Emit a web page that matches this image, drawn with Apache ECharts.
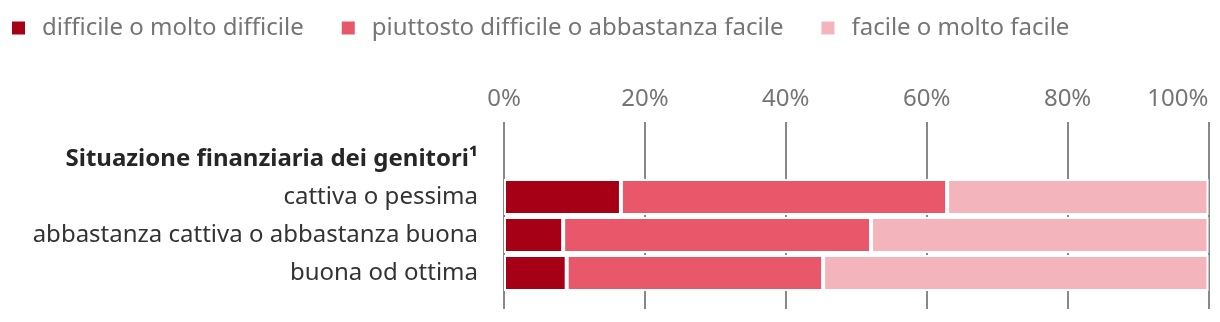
<!DOCTYPE html>
<html>
<head>
<meta charset="utf-8">
<script src="https://cdn.jsdelivr.net/npm/echarts@6/dist/echarts.min.js"></script>
<style>
  html, body { margin: 0; padding: 0; background: #fff; }
  #chart { width: 1220px; height: 322px; }
</style>
</head>
<body>
<div id="chart"></div>
<script>
// Row labels; the first row is a group heading without a bar
const categories = [
  'Situazione finanziaria dei genitori¹',
  'cattiva o pessima',
  'abbastanza cattiva o abbastanza buona',
  'buona od ottima'
];
const seriesNames = [
  'difficile o molto difficile',
  'piuttosto difficile o abbastanza facile',
  'facile o molto facile'
];
// Shares in percent per row (heading row empty)
const difficile = [null, 16.6, 8.4, 8.9];
const piuttosto = [null, 46.3, 43.7, 36.4];
const facile    = [null, 37.1, 47.9, 54.7];
const tickValues = [0, 20, 40, 60, 80, 100];

const colors = ['#a50016', '#e8586a', '#f4b4bc'];
const font = '"Noto Sans", sans-serif';

const chart = echarts.init(document.getElementById('chart'), null, { renderer: 'canvas' });

const valueSets = [difficile, piuttosto, facile];
const series = seriesNames.map((name, i) => ({
  name: name,
  type: 'bar',
  stack: 'total',
  xAxisIndex: 1,
  yAxisIndex: 1,
  barWidth: 36,
  data: valueSets[i],
  itemStyle: { color: colors[i], borderColor: '#ffffff', borderWidth: 2 },
  emphasis: { disabled: true },
  z: 3
}));

chart.setOption({
  animation: false,
  textStyle: { fontFamily: font },
  color: colors,
  legend: {
    left: 10,
    top: 16,
    padding: 0,
    itemWidth: 15,
    itemHeight: 15,
    itemGap: 36,
    icon: 'rect',
    textStyle: { fontFamily: font, fontSize: 24, color: '#757575', padding: [0, 0, 0, 11] },
    data: seriesNames
  },
  grid: [
    // axis ticks and vertical guides
    { left: 504, right: 11.5, top: 122, bottom: 13, containLabel: false },
    // bars
    { left: 504, right: 11.5, top: 140, height: 152, containLabel: false }
  ],
  xAxis: [
    {
      gridIndex: 0,
      type: 'value',
      position: 'top',
      min: 0,
      max: 100,
      interval: 20,
      axisLine: { show: false },
      axisTick: { show: false },
      splitLine: { show: true, lineStyle: { color: '#888888', width: 2 } },
      axisLabel: {
        fontFamily: font,
        fontSize: 24,
        color: '#757575',
        margin: 11,
        alignMaxLabel: 'right',
        customValues: tickValues,
        formatter: '{value}%'
      }
    },
    {
      gridIndex: 1,
      type: 'value',
      min: 0,
      max: 100,
      show: false
    }
  ],
  yAxis: [
    { gridIndex: 0, type: 'value', show: false },
    {
      gridIndex: 1,
      type: 'category',
      inverse: true,
      data: categories,
      axisLine: { show: false },
      axisTick: { show: false },
      splitLine: { show: false },
      axisLabel: {
        margin: 26,
        fontFamily: font,
        fontSize: 24,
        color: '#333333',
        formatter: (v, idx) => idx === 0 ? '{h|' + v + '}' : v,
        rich: {
          h: { fontFamily: font, fontSize: 24, fontWeight: 'bold', color: '#262626' }
        }
      }
    }
  ],
  series: series
});
</script>
</body>
</html>
